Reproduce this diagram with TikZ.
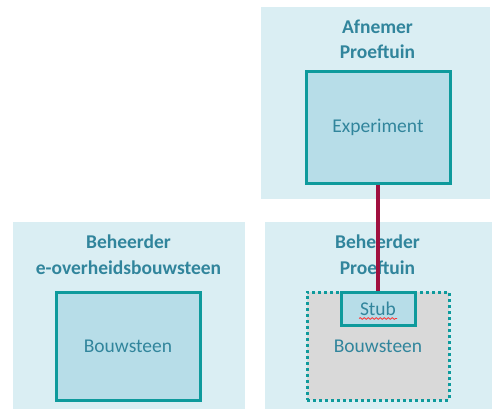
\documentclass[tikz,border=0pt]{standalone}
\usepackage{fontspec}
\setmainfont{Carlito}
\usetikzlibrary{positioning,decorations.pathmorphing}
\definecolor{PanelFill}{HTML}{DAEEF3}
\definecolor{BoxFill}{HTML}{B7DDE8}
\definecolor{BoxLine}{HTML}{0E9A9C}
\definecolor{TextTeal}{HTML}{31859C}
\definecolor{LinkRed}{HTML}{A0103F}
\definecolor{StubGray}{HTML}{D9D9D9}
\tikzset{
  panel/.style={fill=PanelFill, draw=none, inner sep=0pt},
  paneltitle/.style={text=TextTeal, font=\fontsize{19.5}{25.5}\selectfont\bfseries, align=center, inner sep=0pt},
  blockbox/.style={fill=BoxFill, draw=BoxLine, line width=3pt, inner sep=0pt,
    text=TextTeal, font=\fontsize{19.5}{24}\selectfont},
  dottedbox/.style={blockbox, fill=StubGray, line width=3pt, dash pattern=on 3pt off 3pt}
}
\begin{document}
\begin{tikzpicture}[x=1pt,y=-1pt]
  \useasboundingbox (0,0) rectangle (492,409);
  \node[panel, minimum width=229pt, minimum height=192pt] (afnemer) at (375.5,103) {};
  \node[panel, minimum width=232pt, minimum height=187pt] (beheerderE) at (129,315.5) {};
  \node[panel, minimum width=227pt, minimum height=187pt] (beheerderP) at (378.5,315.5) {};
  \node[paneltitle] (afnemertitle) at (377.5,39.5) {Afnemer\\Proeftuin};
  \node[paneltitle] (beheerderEtitle) at (128.5,254.5) {Beheerder\\e-overheidsbouwsteen};
  \node[paneltitle] (beheerderPtitle) at (377.5,254.5) {Beheerder\\Proeftuin};
  \node[blockbox, minimum width=144pt, minimum height=111pt] (experiment) at (378,127.5) {Experiment};
  \node[blockbox, minimum width=144pt, minimum height=108pt] (bouwsteenE) at (128,346) {Bouwsteen};
  \node[dottedbox, minimum width=142pt, minimum height=108pt] (bouwsteenP) at (378,346) {\raisebox{-2pt}{Bouwsteen}};
  \node[blockbox, minimum width=74pt, minimum height=33pt] (stub) at (378,308.5) {Stub};
  \draw[red!80, line width=0.8pt, decorate, decoration={snake, amplitude=0.9pt, segment length=4pt}]
    ([xshift=-19pt,yshift=-10pt]stub.center) -- ([xshift=19pt,yshift=-10pt]stub.center);
  \draw[LinkRed, line width=4pt] (experiment.south) -- (stub.north);
\end{tikzpicture}
\end{document}
